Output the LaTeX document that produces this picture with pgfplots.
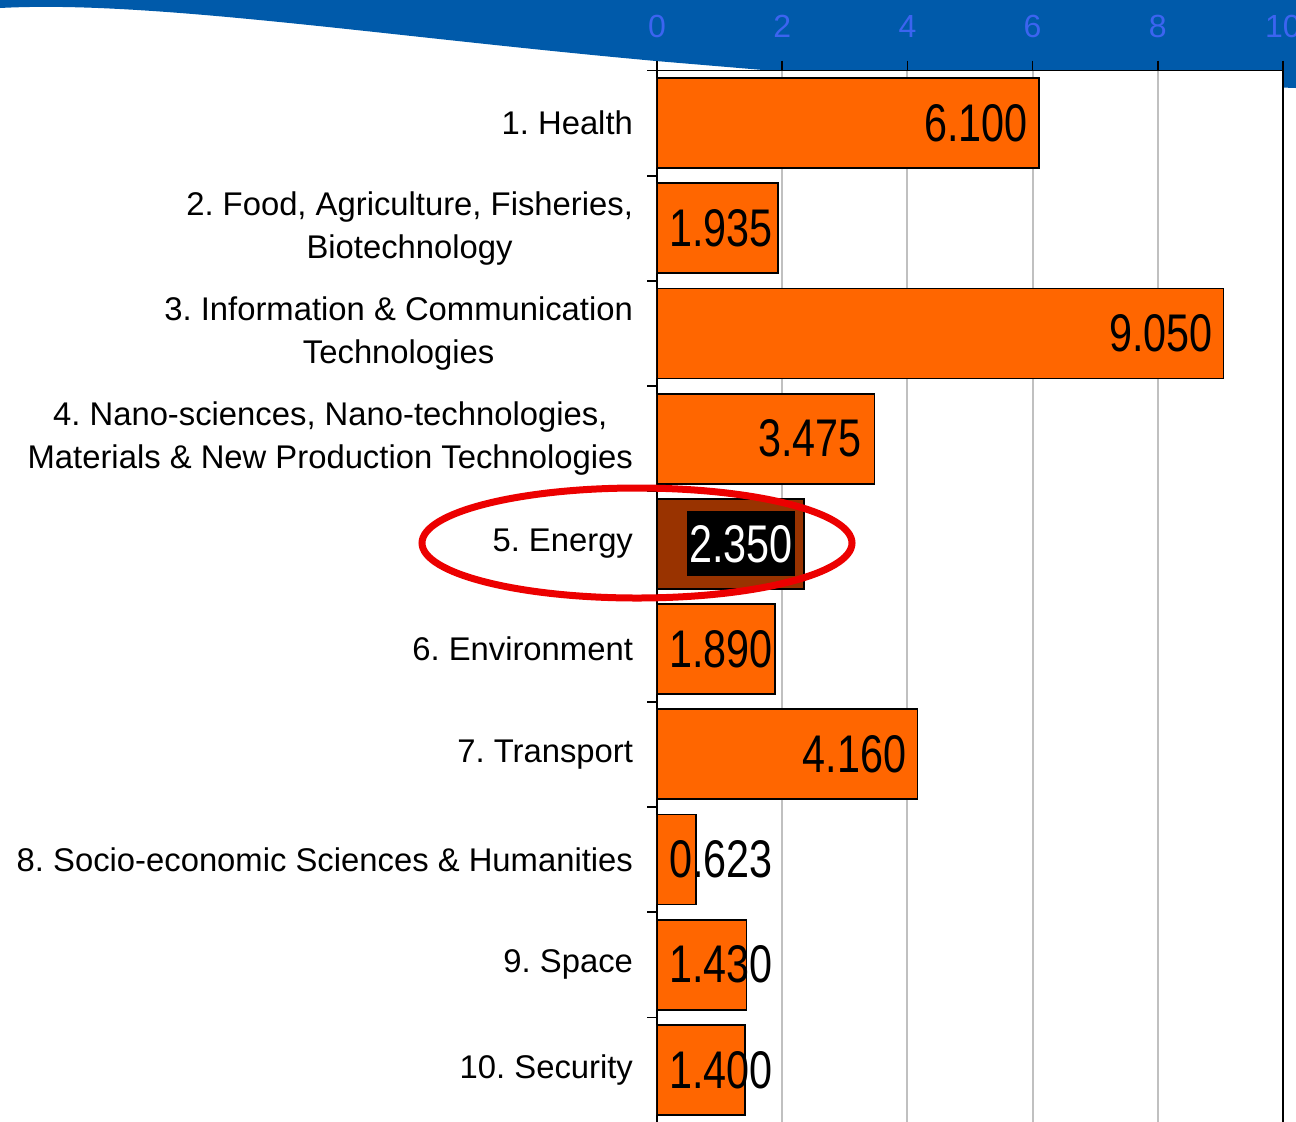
\documentclass[border=0pt]{standalone}
\usepackage{fontspec}
\setmainfont{Liberation Sans}
\newfontfamily\valfont[FakeStretch=0.78]{Liberation Sans}
\usepackage{pgfplots}
\usepackage{pgfplotstable}
\pgfplotsset{compat=1.18}

\definecolor{banner}{RGB}{0,90,170}
\definecolor{ticklab}{RGB}{60,100,240}
\definecolor{barorange}{RGB}{255,102,0}
\definecolor{barbrown}{RGB}{153,51,0}
\definecolor{gridgray}{RGB}{192,192,192}
\definecolor{ringred}{RGB}{236,0,0}

% y = 10 is the top row (1. Health)
\pgfplotstableread{
y val
1 1.400
2 1.430
3 0.623
4 4.160
5 1.890
7 3.475
8 9.050
9 1.935
10 6.100
}\orangebars

\pgfplotstableread{
y lx lab
1 1.853 1.400
2 1.853 1.430
3 1.853 0.623
4 3.990 4.160
5 1.853 1.890
7 3.275 3.475
8 8.880 9.050
9 1.853 1.935
10 5.930 6.100
}\barlabels

\begin{document}
\frenchspacing
\begin{tikzpicture}
\begin{scope}[x=0.5pt,y=-0.5pt]
  \fill[banner] (0,0) -- (1296,0) -- (1296,88) -- (775,71) -- (656,61)
    .. controls (380,36) and (150,0) .. (0,8) -- cycle;
\end{scope}

\begin{axis}[
  at={(328.5pt,-561.25pt)}, anchor=south west,
  width=313pt, height=526pt, scale only axis,
  xmin=0, xmax=10, ymin=0.5, ymax=10.5,
  axis background/.style={fill=white},
  axis line style={black, line width=0.8pt},
  tick align=outside,
  major tick length=5pt, minor tick length=5pt,
  xtick={0,2,...,10}, xtick pos=upper, xticklabel pos=upper,
  x tick style={black, line width=0.8pt},
  xticklabel style={text=ticklab, font=\fontsize{16}{19}\selectfont, yshift=8pt},
  /pgf/number format/assume math mode=true,
  xmajorgrids, major grid style={draw=gridgray, line width=1pt},
  ytick={1,...,10}, ytick pos=left,
  minor ytick={0.5,1.5,...,10.5},
  major y tick style={draw=none},
  minor y tick style={draw=black, line width=0.8pt},
  yticklabel style={font=\fontsize{16.4}{21.5}\selectfont, align=center, xshift=-3.5pt},
  yticklabels={{10. Security},{9. Space},{8. Socio-economic Sciences \& Humanities},
    {7. Transport},{6. Environment},{5. Energy},
    {4. Nano-sciences, Nano-technologies,\\Materials \& New Production Technologies},
    {3. Information \& Communication\\Technologies},
    {2. Food, Agriculture, Fisheries,\\Biotechnology},{1. Health}},
]
\addplot[xbar, bar width=0.855, bar shift=0pt, fill=barorange, draw=black, line width=0.9pt]
  table[x=val, y=y] {\orangebars};
\addplot[xbar, bar width=0.855, bar shift=0pt, fill=barbrown, draw=black, line width=0.9pt]
  coordinates {(2.350,6)};

\addplot[draw=none, mark=none, nodes near coords, point meta=explicit symbolic,
  every node near coord/.append style={anchor=east, inner sep=0pt, text=black,
    font=\fontsize{26.5}{30}\selectfont\valfont}]
  table[x=lx, y=y, meta=lab] {\barlabels};
\addplot[draw=none, mark=none, nodes near coords, point meta=explicit symbolic,
  every node near coord/.append style={anchor=east, fill=black, text=white,
    inner xsep=1pt, inner ysep=0pt, minimum height=32.5pt,
    font=\fontsize{26.5}{30}\selectfont\valfont}]
  table[x=lx, y=y, meta=lab] {
y lx lab
6 2.204 2.350
};
\end{axis}

\begin{scope}[x=0.5pt,y=-0.5pt]
  \draw[ringred, line width=3.5pt] (637,543) ellipse [x radius=215, y radius=55];
\end{scope}
\pgfresetboundingbox
\useasboundingbox (0pt,0pt) rectangle (648pt,-560.5pt);
\end{tikzpicture}
\end{document}
